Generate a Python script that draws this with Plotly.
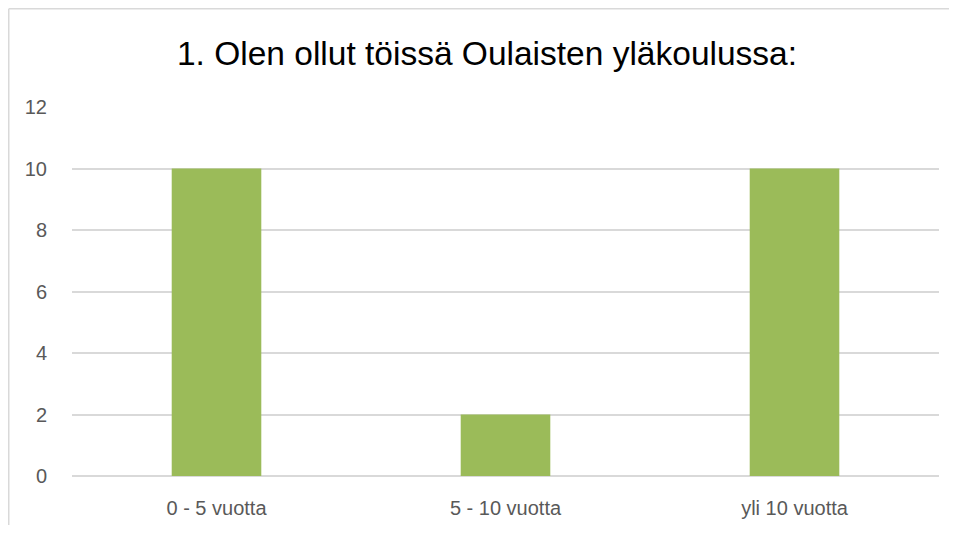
import plotly.graph_objects as go

categories = ["0 - 5 vuotta", "5 - 10 vuotta", "yli 10 vuotta"]
values = [10, 2, 10]
y_ticks = [0, 2, 4, 6, 8, 10, 12]
title_text = "1. Olen ollut töissä Oulaisten yläkoulussa:"

# the page body adds an 8px offset, so the figure is sized to fit inside it
OFF = 8
W, H = 957 - 2 * OFF, 533 - 2 * OFF
ml, mr, mt, mb = 72 - OFF, 10, 107 - OFF, 49
pw = W - ml - mr
ph = H - mt - mb

fig = go.Figure(
    go.Bar(
        x=categories,
        y=values,
        marker=dict(color="#9BBB59", line=dict(width=0)),
        width=0.31,
    )
)

border_color = "#D9D9D9"
# chart-area border (left and top edges visible in the crop)
x_left = (0.75 - ml) / pw
y_top = (H - mb - 0.75) / ph
fig.add_shape(type="line", xref="paper", yref="paper",
              x0=x_left, x1=x_left, y0=y_top, y1=-0.3,
              line=dict(color=border_color, width=1.5))
fig.add_shape(type="line", xref="paper", yref="paper",
              x0=x_left, x1=1.2, y0=y_top, y1=y_top,
              line=dict(color=border_color, width=1.5))

fig.update_layout(
    width=W, height=H,
    margin=dict(l=ml, r=mr, t=mt, b=mb, autoexpand=False),
    paper_bgcolor="white", plot_bgcolor="white",
    font=dict(family="Liberation Sans, Arial, sans-serif", color="#595959"),
    title=dict(
        text=title_text,
        x=(487 - OFF) / W, xanchor="center", xref="container",
        y=1 - (53 - OFF) / H, yanchor="middle", yref="container",
        font=dict(size=33.5, color="#000000", family="Liberation Sans, Arial, sans-serif"),
    ),
    showlegend=False,
    bargap=0.69,
)
fig.update_xaxes(
    showgrid=False, zeroline=False, showline=False,
    tickfont=dict(size=20, color="#595959"),
    ticks="outside", ticklen=14, tickcolor="rgba(0,0,0,0)",
)
fig.update_yaxes(
    range=[0, 12], tickvals=y_ticks,
    showgrid=True, gridcolor=border_color, gridwidth=1.5,
    zeroline=True, zerolinecolor=border_color, zerolinewidth=1.5,
    showline=False,
    tickfont=dict(size=20, color="#595959"),
    ticks="outside", ticklen=20, tickcolor="rgba(0,0,0,0)",
)

fig.write_html("out.html", config={"displayModeBar": False})
